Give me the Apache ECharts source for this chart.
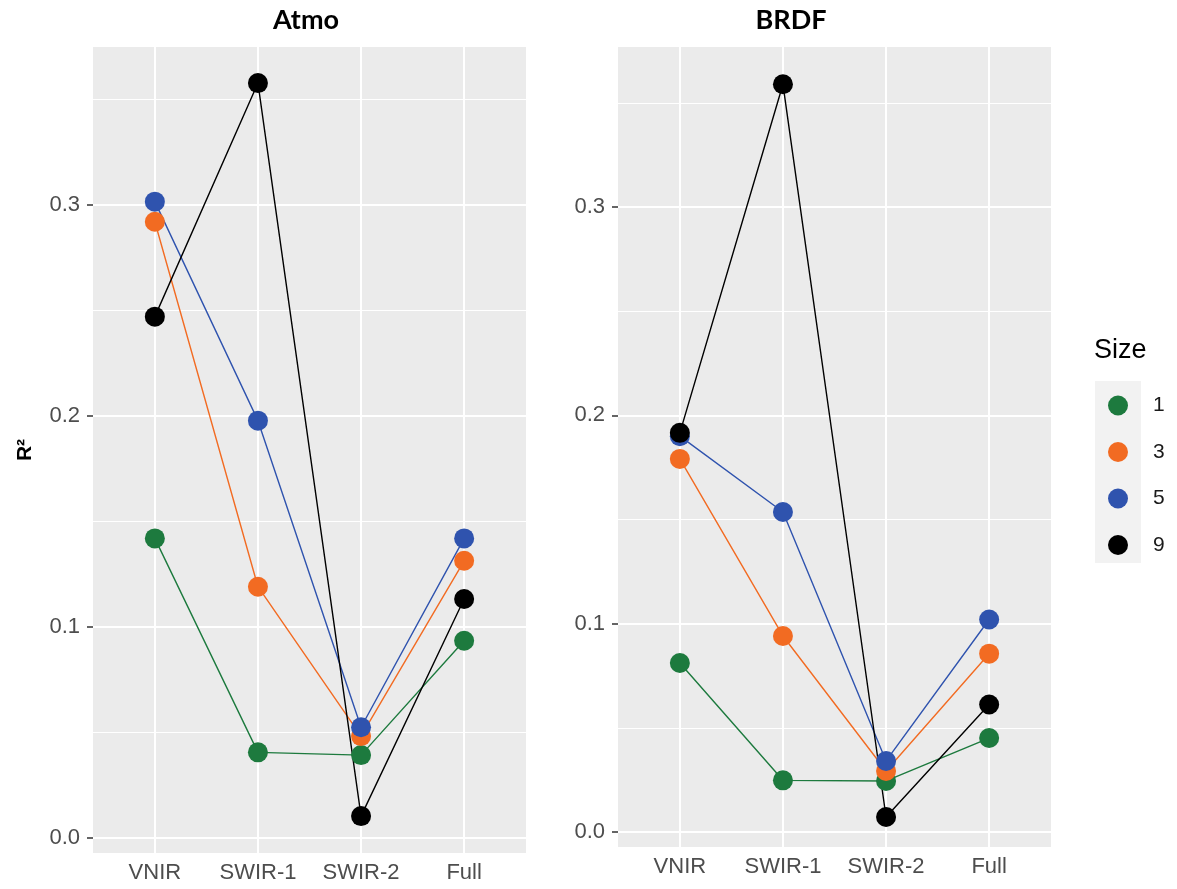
<!DOCTYPE html>
<html>
<head>
<meta charset="utf-8">
<title>R² by band and window size</title>
<script src="https://cdn.jsdelivr.net/npm/echarts@6/dist/echarts.min.js"></script>
<style>
  html, body { margin: 0; padding: 0; background: #ffffff; }
  #chart { width: 1177px; height: 889px; }
</style>
</head>
<body>
<div id="chart"></div>
<script>
// Spectral band groups on the x axis
const bands = ['VNIR', 'SWIR-1', 'SWIR-2', 'Full'];
// Window sizes (legend entries)
const sizes = ['1', '3', '5', '9'];

// R² per band, Atmo correction
const atmoSize1 = [0.1420, 0.0406, 0.0393, 0.0935];
const atmoSize3 = [0.2921, 0.1191, 0.0483, 0.1314];
const atmoSize5 = [0.3016, 0.1978, 0.0525, 0.1420];
const atmoSize9 = [0.2471, 0.3578, 0.0104, 0.1133];

// R² per band, BRDF correction
const brdfSize1 = [0.0811, 0.0248, 0.0245, 0.0451];
const brdfSize3 = [0.1791, 0.0941, 0.0293, 0.0856];
const brdfSize5 = [0.1900, 0.1536, 0.0341, 0.1020];
const brdfSize9 = [0.1916, 0.3589, 0.0072, 0.0612];

// Axis tick labels and grid lines
const yTicks = [0, 0.1, 0.2, 0.3];
const yMinorGrid = [0.05, 0.15, 0.25, 0.35];
const bandPositions = [1, 2, 3, 4];

const panels = [
  { title: 'Atmo', series: [atmoSize1, atmoSize3, atmoSize5, atmoSize9] },
  { title: 'BRDF', series: [brdfSize1, brdfSize3, brdfSize5, brdfSize9] }
];

const sizeColors = ['#1d7a3e', '#f26b22', '#2f53ae', '#000000'];

const FONT = '"Liberation Sans", Arial, sans-serif';
const TITLE_FONT = 'Lato, "Open Sans", sans-serif';

// panel geometry
const grids = [
  { left: 93, top: 47, width: 433, height: 806, yMin: -0.0071, yMax: 0.3749, titleX: 306 },
  { left: 618, top: 47, width: 433, height: 800, yMin: -0.0072, yMax: 0.3768, titleX: 791 }
];

const toPoints = vals => vals.map((v, i) => [bandPositions[i], v]);

const gridLines = [
  ...yTicks.map(v => ({ yAxis: v, lineStyle: { width: 2 } })),
  ...yMinorGrid.map(v => ({ yAxis: v, lineStyle: { width: 1 } })),
  ...bandPositions.map(x => ({ xAxis: x, lineStyle: { width: 2 } }))
];

const series = [];
panels.forEach((panel, p) => {
  panel.series.forEach((vals, i) => {
    const line = {
      type: 'line',
      name: sizes[i],
      xAxisIndex: p,
      yAxisIndex: p,
      data: toPoints(vals),
      showSymbol: false,
      silent: true,
      z: 2,
      itemStyle: { color: sizeColors[i] },
      lineStyle: { color: sizeColors[i], width: 1.4 }
    };
    if (i === 0) {
      line.markLine = {
        silent: true,
        symbol: ['none', 'none'],
        label: { show: false },
        z: 1,
        animation: false,
        lineStyle: { color: '#ffffff', type: 'solid', opacity: 1 },
        emphasis: { disabled: true },
        data: gridLines
      };
    }
    series.push(line);
  });
  panel.series.forEach((vals, i) => {
    series.push({
      type: 'scatter',
      name: sizes[i],
      xAxisIndex: p,
      yAxisIndex: p,
      data: toPoints(vals),
      symbol: 'circle',
      symbolSize: 20,
      silent: true,
      z: 3,
      itemStyle: { color: sizeColors[i], opacity: 1 }
    });
  });
});

const option = {
  animation: false,
  backgroundColor: '#ffffff',
  title: [
    ...panels.map((panel, p) => ({
      text: panel.title,
      left: grids[p].titleX,
      top: 7,
      textAlign: 'center',
      padding: 0,
      textStyle: { fontFamily: TITLE_FONT, fontWeight: 'bold', fontSize: 27, color: '#000000' }
    })),
    {
      text: 'Size',
      left: 1094,
      top: 337,
      padding: 0,
      textStyle: { fontFamily: FONT, fontWeight: 'normal', fontSize: 27, color: '#000000' }
    }
  ],
  legend: {
    data: sizes,
    orient: 'vertical',
    left: 1108,
    top: 395,
    padding: 0,
    icon: 'circle',
    itemWidth: 20,
    itemHeight: 20,
    itemGap: 25.5,
    selectedMode: false,
    textStyle: { fontFamily: FONT, fontSize: 21, color: '#1a1a1a', lineHeight: 20, padding: [0, 0, 0, 20] }
  },
  graphic: [
    { type: 'rect', left: 1095, top: 381, z: -1, shape: { width: 46, height: 182 }, style: { fill: '#f2f2f2' } }
  ],
  grid: grids.map(g => ({
    left: g.left, top: g.top, width: g.width, height: g.height,
    show: true, backgroundColor: '#ebebeb', borderWidth: 0, containLabel: false
  })),
  xAxis: grids.map((g, p) => ({
    type: 'value',
    gridIndex: p,
    min: 0.4,
    max: 4.6,
    splitLine: { show: false },
    axisLine: { show: false },
    axisTick: { show: true, customValues: bandPositions, length: 6, lineStyle: { color: '#333333', width: 1.5 } },
    axisLabel: {
      customValues: bandPositions,
      formatter: v => bands[Math.round(v) - 1],
      color: '#4d4d4d', fontFamily: FONT, fontSize: 22, margin: 9
    }
  })),
  yAxis: grids.map((g, p) => ({
    type: 'value',
    gridIndex: p,
    min: g.yMin,
    max: g.yMax,
    name: p === 0 ? 'R²' : '',
    nameLocation: 'middle',
    nameRotate: 90,
    nameGap: 57,
    nameTextStyle: { fontFamily: FONT, fontWeight: 'bold', fontSize: 21, color: '#000000' },
    splitLine: { show: false },
    axisLine: { show: false },
    axisTick: { show: true, customValues: yTicks, length: 6, lineStyle: { color: '#333333', width: 1.5 } },
    axisLabel: {
      customValues: yTicks,
      formatter: v => v.toFixed(1),
      color: '#4d4d4d', fontFamily: FONT, fontSize: 22, margin: 13
    }
  })),
  series
};

const chart = echarts.init(document.getElementById('chart'), null, { renderer: 'canvas' });
chart.setOption(option);
</script>
</body>
</html>
